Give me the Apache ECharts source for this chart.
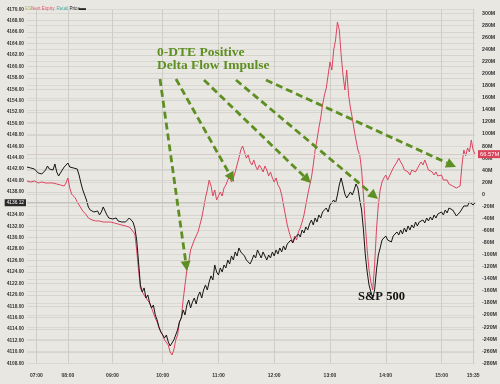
<!DOCTYPE html>
<html><head><meta charset="utf-8">
<script src="https://cdn.jsdelivr.net/npm/echarts@6/dist/echarts.min.js"></script>
<style>html,body{margin:0;padding:0;background:#e9e7e2}#c{width:500px;height:384px}</style>
</head><body><div id="c"></div>
<script>
// time axis segments: [start, end, number of steps]
const timeSegments = [['06:50','07:00',5],['07:00','08:00',17],['08:00','09:00',24],['09:00','10:00',27],['10:00','15:00',150],['15:00','15:35',17],['15:35','15:37',1]];
const tickLabels = ['07:00','08:00','09:00','10:00','11:00','12:00','13:00','14:00','15:00','15:35'];
const legendNames = ['ES','Next Expiry','Retail','Price'];

// S&P 500 price (left axis)
const priceValues = [
4142.38,4142.38,4142.21,4142.21,4142.03,4141.86,4141.33,4140.98,4141.16,4141.51,
4141.86,4142.56,4142.03,4142.38,4141.86,4142.91,4141.51,4140.81,4140.98,4141.86,
4142.38,4142.56,4143.08,4142.38,4142.56,4142.21,4142.38,4142.03,4140.98,4139.58,
4138.36,4137.48,4136.60,4135.38,4134.85,4135.20,4134.50,4134.15,4134.68,4133.98,
4134.50,4135.38,4135.03,4133.98,4133.45,4133.80,4133.28,4132.93,4133.45,4132.93,
4133.28,4132.75,4133.10,4132.75,4132.58,4133.45,4133.10,4132.75,4131.70,4129.60,
4125.75,4121.72,4120.49,4121.20,4119.44,4119.97,4118.56,4117.69,4118.21,4116.47,
4115.59,4114.37,4113.49,4113.84,4112.44,4112.96,4111.74,4111.04,4111.39,4112.09,
4112.96,4113.84,4115.24,4115.94,4117.34,4116.47,4118.21,4119.09,4117.69,4118.74,
4119.44,4118.39,4119.79,4120.49,4119.44,4120.84,4121.72,4120.84,4122.25,4123.30,
4122.60,4125.22,4124.00,4123.47,4124.70,4124.00,4125.22,4124.70,4126.10,4125.40,
4126.80,4126.10,4127.50,4126.80,4128.20,4127.50,4127.85,4126.80,4126.10,4126.45,
4125.40,4126.10,4126.97,4126.45,4127.85,4127.15,4126.45,4127.50,4126.80,4126.10,
4126.97,4126.45,4127.50,4126.80,4127.85,4127.15,4128.20,4127.50,4128.55,4127.85,
4128.90,4128.55,4129.60,4129.07,4129.95,4129.60,4130.65,4130.12,4131.35,4130.82,
4131.88,4131.35,4132.40,4133.10,4132.23,4133.45,4132.75,4133.98,4133.45,4134.50,
4134.15,4135.20,4134.50,4135.73,4135.38,4136.60,4136.08,4137.48,4139.23,4140.46,
4139.06,4137.65,4136.95,4137.48,4138.01,4137.48,4138.36,4139.41,4138.71,4136.60,
4134.85,4131.35,4126.97,4124.00,4121.72,4120.49,4119.44,4120.84,4124.35,4126.97,
4128.20,4129.60,4129.95,4130.30,4129.60,4129.95,4129.25,4130.30,4129.95,4131.00,
4130.47,4131.35,4130.65,4131.70,4131.00,4132.05,4131.35,4132.23,4131.70,4132.75,
4132.05,4132.75,4132.40,4133.10,4132.58,4133.45,4132.93,4133.63,4133.10,4133.98,
4133.45,4134.15,4133.80,4134.50,4133.98,4134.85,4134.33,4135.20,4135.55,4134.85,
4134.33,4133.80,4133.63,4134.50,4135.03,4135.55,4135.90,4135.55,4136.25,4136.08,
4135.73,4136.12];

// Next Expiry delta flow, millions (right axis)
const nextExpiryValues = [
22.1,22.1,20.4,20.4,22.1,20.4,18.8,18.8,20.4,18.8,
18.8,20.4,18.8,17.1,18.8,17.1,17.1,15.5,15.5,13.8,
13.8,18.8,27.1,10.5,0.5,-2.8,-6.1,-12.7,-17.7,-21.0,
-27.6,-29.3,-34.3,-39.2,-40.9,-42.5,-40.9,-44.2,-42.5,-44.2,
-42.5,-45.9,-44.2,-45.9,-47.5,-45.9,-49.2,-47.5,-50.8,-49.2,
-52.5,-50.8,-54.1,-52.5,-55.8,-54.1,-57.5,-60.8,-65.7,-92.3,
-125.4,-155.2,-161.8,-158.5,-171.8,-168.5,-180.1,-188.4,-191.7,-204.9,
-211.6,-221.5,-228.1,-233.1,-241.4,-238.1,-249.7,-261.3,-266.2,-257.9,
-241.4,-233.1,-211.6,-204.9,-175.1,-150.2,-125.4,-112.1,-92.3,-84.0,
-75.7,-72.4,-62.4,-50.8,-39.2,-22.7,-6.1,7.2,23.7,13.8,
-2.8,7.2,-9.4,-6.1,3.9,-2.8,10.5,15.5,23.7,30.4,
20.4,27.1,37.0,48.6,60.2,73.5,80.1,70.1,60.2,65.2,
53.6,48.6,56.9,46.9,40.3,48.6,43.6,37.0,46.9,40.3,
30.4,37.0,27.1,20.4,27.1,15.5,10.5,-1.1,-17.7,-34.3,
-50.8,-62.4,-72.4,-79.0,-69.1,-75.7,-62.4,-55.8,-45.9,-34.3,
-17.7,-1.1,13.8,27.1,48.6,73.5,90.0,109.9,126.5,148.0,
164.6,176.2,197.7,219.3,206.0,239.2,255.7,285.5,272.3,230.9,
197.7,172.9,206.0,164.6,143.0,126.5,106.6,90.0,73.5,65.2,
40.3,-1.1,-50.8,-92.3,-125.4,-145.3,-158.5,-117.1,-59.1,-17.7,
7.2,20.4,27.1,32.0,23.7,30.4,37.0,43.6,48.6,53.6,
60.2,53.6,48.6,40.3,43.6,37.0,32.0,40.3,43.6,37.0,
40.3,48.6,53.6,48.6,56.9,48.6,40.3,43.6,37.0,32.0,
37.0,30.4,27.1,32.0,23.7,20.4,23.7,17.1,20.4,13.8,
17.1,10.5,7.2,13.8,48.6,73.5,63.5,76.8,70.1,90.0,
73.5,66.57];

const lastPrice = 4136.12;
const lastNextExpiry = 66.57;

function toMin(t){const p=t.split(':');return (+p[0])*60+(+p[1]);}
function fmt(m){const h=Math.floor(m/60),mm=m%60;return (h<10?'0':'')+h+':'+(mm<10?'0':'')+mm;}
function buildTimes(){
  const out=[timeSegments[0][0]];
  timeSegments.forEach(([s,e,n])=>{const a=toMin(s),b=toMin(e);for(let k=1;k<=n;k++)out.push(fmt(a+Math.round(k*(b-a)/n)));});
  return out;
}
const times = buildTimes();

const GREEN = '#5e8f22';
const arrows = [[160,79,187,271],[176,79,234,182],[204,80,311,183],[236,80,378,199],[266,80,456,167]];
const graphics = [];
arrows.forEach(([x1,y1,x2,y2])=>{
  const dx=x2-x1, dy=y2-y1, L=Math.hypot(dx,dy), ux=dx/L, uy=dy/L;
  const hl=10, hw=5;
  const bx=x2-ux*hl, by=y2-uy*hl;
  graphics.push({type:'line',z:100,silent:true,shape:{x1:x1,y1:y1,x2:bx,y2:by},style:{stroke:GREEN,lineWidth:2.8,lineDash:[7,4],lineCap:'butt'}});
  graphics.push({type:'polygon',z:100,silent:true,shape:{points:[[x2,y2],[bx-uy*hw,by+ux*hw],[bx+uy*hw,by-ux*hw]]},style:{fill:GREEN}});
});
graphics.push({type:'text',z:100,x:157,y:45.5,silent:true,style:{text:'0-DTE Positive',font:'bold 13.5px "Liberation Serif"',fill:GREEN,verticalAlign:'top'}});
graphics.push({type:'text',z:100,x:157,y:59,silent:true,style:{text:'Delta Flow Impulse',font:'bold 13.5px "Liberation Serif"',fill:GREEN,verticalAlign:'top'}});
graphics.push({type:'text',z:100,x:358,y:290.5,silent:true,style:{text:'S&P 500',font:'bold 12.5px "Liberation Serif"',fill:'#111',verticalAlign:'top'}});
// legend row
const legendColors = ['#bdb46a','#e0566e','#48b3a6','#222'];
const legendX = [25,31,56.5,69.5];
legendNames.forEach((n,k)=>graphics.push({type:'text',z:100,x:legendX[k],y:9,silent:true,style:{text:n,font:'4.6px "Liberation Sans"',fill:legendColors[k],verticalAlign:'middle'}}));
graphics.push({type:'rect',z:100,silent:true,shape:{x:79,y:8.2,width:7,height:1.8},style:{fill:'#222'}});

const chart = echarts.init(document.getElementById('c'),null,{renderer:'canvas'});
const lbl = {color:'#333',fontFamily:'Liberation Sans',fontWeight:'bold'};
chart.setOption({
  animation:false,
  backgroundColor:'#e9e7e2',
  grid:{left:27,right:25,top:9.3,bottom:20.7},
  xAxis:{type:'category',data:times,boundaryGap:false,
    axisLine:{show:false},axisTick:{show:false},
    axisLabel:Object.assign({interval:(i,v)=>tickLabels.includes(v),margin:10,fontSize:5},lbl),
    splitLine:{show:true,interval:(i,v)=>tickLabels.includes(v),lineStyle:{color:'#cfcdc8',width:1}}},
  yAxis:[
    {type:'value',position:'left',min:4108,max:4170,interval:2,
      axisLine:{show:false},axisTick:{show:false},
      axisLabel:Object.assign({margin:3,fontSize:4.8,formatter:v=>v.toFixed(2)},lbl),
      splitLine:{lineStyle:{color:'#d6d4cf',width:1}}},
    {type:'value',position:'right',min:-280,max:306.6,interval:20,
      axisLine:{show:false},axisTick:{show:false},
      axisLabel:Object.assign({margin:7,fontSize:5.3,showMaxLabel:false,formatter:v=>v===0?'0':v+'M'},lbl),
      splitLine:{show:true,lineStyle:{color:'#dad8d3',width:1}}}
  ],
  series:[
    {name:'ES',type:'line',data:[],color:'#bdb46a'},
    {name:'Retail',type:'line',data:[],color:'#48b3a6'},
    {name:'Next Expiry',type:'line',yAxisIndex:1,data:nextExpiryValues,showSymbol:false,symbol:'none',
      lineStyle:{color:'#dc4560',width:1},color:'#dc4560',
      markLine:{symbol:'none',silent:true,data:[{yAxis:lastNextExpiry}],lineStyle:{color:'#d8c9c9',width:1,type:'solid'},
        label:{position:'end',formatter:'66.57M',backgroundColor:'#d9435a',color:'#fff',fontSize:5.8,fontFamily:'Liberation Sans',padding:[1,2],distance:3}}},
    {name:'Price',type:'line',yAxisIndex:0,data:priceValues,showSymbol:false,symbol:'none',
      lineStyle:{color:'#151515',width:1},color:'#151515',
      markLine:{symbol:'none',silent:true,data:[{yAxis:lastPrice}],lineStyle:{color:'#c6c4bf',width:1,type:'solid'},
        label:{position:'start',formatter:'4136.12',backgroundColor:'#2a2a2a',color:'#fff',fontSize:4.8,fontFamily:'Liberation Sans',padding:[1,2],distance:1}}}
  ],
  graphic:graphics
});
</script></body></html>
